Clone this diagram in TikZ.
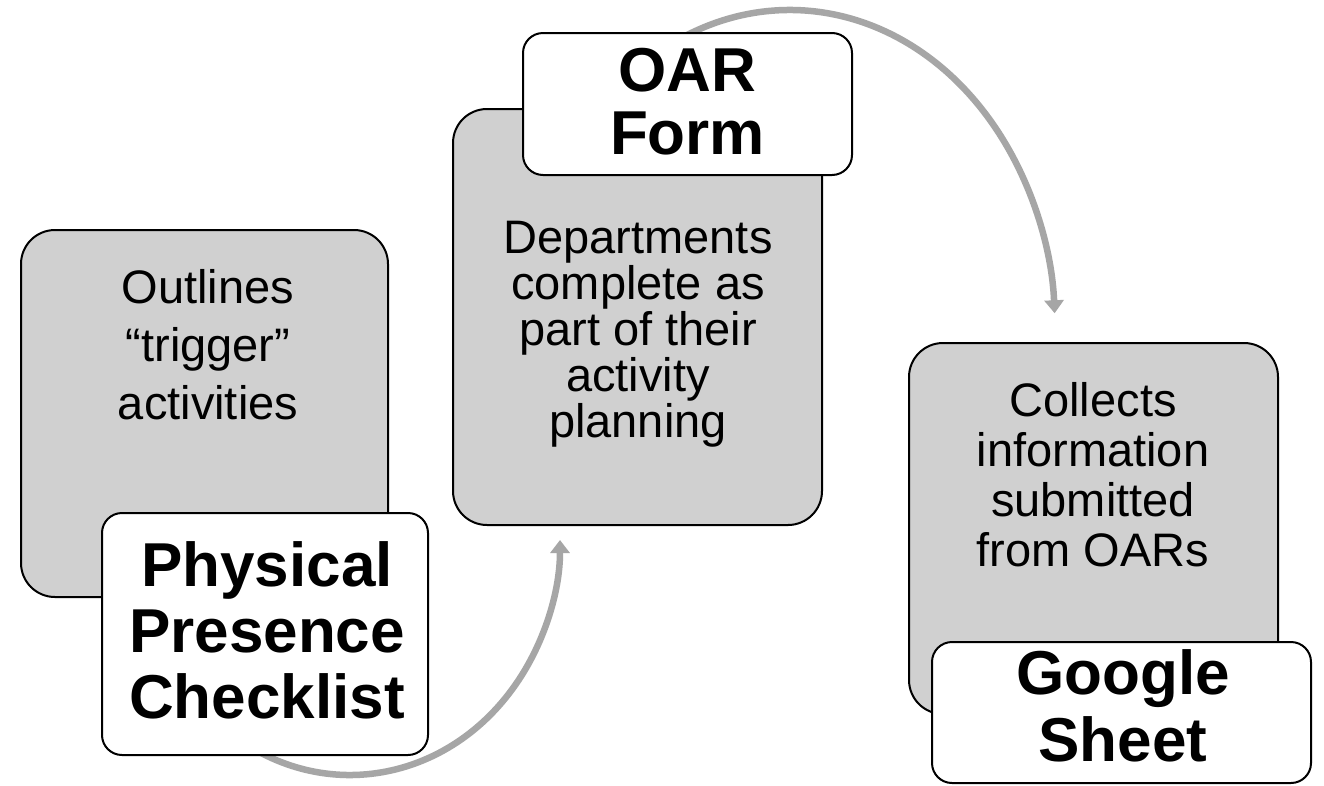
\documentclass[tikz,border=0pt]{standalone}
\usepackage{fontspec}
\setmainfont{Liberation Sans}
\usetikzlibrary{arrows.meta}
\definecolor{boxgray}{HTML}{D0D0D0}
\definecolor{arrowgray}{HTML}{A6A6A6}
\tikzset{
  graybox/.style={draw=black, line width=2pt, fill=boxgray, rounded corners=34pt, inner sep=0pt},
  labelbox/.style={draw=black, line width=2pt, fill=white, rounded corners=20pt, inner sep=0pt},
  bodytext/.style={anchor=north, inner sep=0pt, align=center, text=black},
  boldtext/.style={anchor=north, inner sep=0pt, align=center, text=black, font=\bfseries},
  flowarrow/.style={draw=arrowgray, line width=6.5pt, -{Triangle[length=13pt,width=19pt]}}
}
\begin{document}
\begin{tikzpicture}[x=1pt,y=1pt]
\useasboundingbox (0,0) rectangle (1324,-785);
\fill[white] (0,0) rectangle (1324,-785);

% arc centres and free ends of the connectors
\coordinate (cA) at (350,-540);
\coordinate (cB) at (790,-330);
\coordinate (sA) at ([shift={(235:210pt and 235pt)}]cA);
\coordinate (sB) at ([shift={(125:265pt and 320pt)}]cB);

% connectors (behind the boxes)
\draw[flowarrow] (sA) arc[start angle=235, end angle=360, x radius=210pt, y radius=235pt];
\draw[flowarrow] (sB) arc[start angle=125, end angle=3, x radius=265pt, y radius=320pt];

% step 1
\node[graybox, minimum width=367pt, minimum height=367pt] (b1) at (204.5,-413.5) {};
\node[bodytext, font=\fontsize{47}{58}\selectfont] (t1) at (208,-269) {Outlines\\“trigger”\\activities};
\node[labelbox, minimum width=326pt, minimum height=242pt] (l1) at (265,-634) {};
\node[boldtext, font=\fontsize{62}{66}\bfseries\selectfont] (h1) at (267,-541) {Physical\\Presence\\Checklist};

% step 2
\node[graybox, minimum width=369pt, minimum height=416pt] (b2) at (637.5,-317) {};
\node[bodytext, font=\fontsize{47}{46}\selectfont] (t2) at (638,-221) {Departments\\complete as\\part of their\\activity\\planning};
\node[labelbox, minimum width=329pt, minimum height=142pt] (l2) at (687.5,-104) {};
\node[boldtext, font=\fontsize{62}{63}\bfseries\selectfont] (h2) at (687.5,-48) {OAR\\Form};

% step 3
\node[graybox, minimum width=369pt, minimum height=371pt] (b3) at (1093.5,-528.5) {};
\node[bodytext, font=\fontsize{47}{50}\selectfont] (t3) at (1093,-382) {Collects\\information\\submitted\\from OARs};
\node[labelbox, minimum width=379pt, minimum height=141pt] (l3) at (1121.5,-712.5) {};
\node[boldtext, font=\fontsize{62}{67}\bfseries\selectfont] (h3) at (1123,-649) {Google\\Sheet};
\end{tikzpicture}
\end{document}
